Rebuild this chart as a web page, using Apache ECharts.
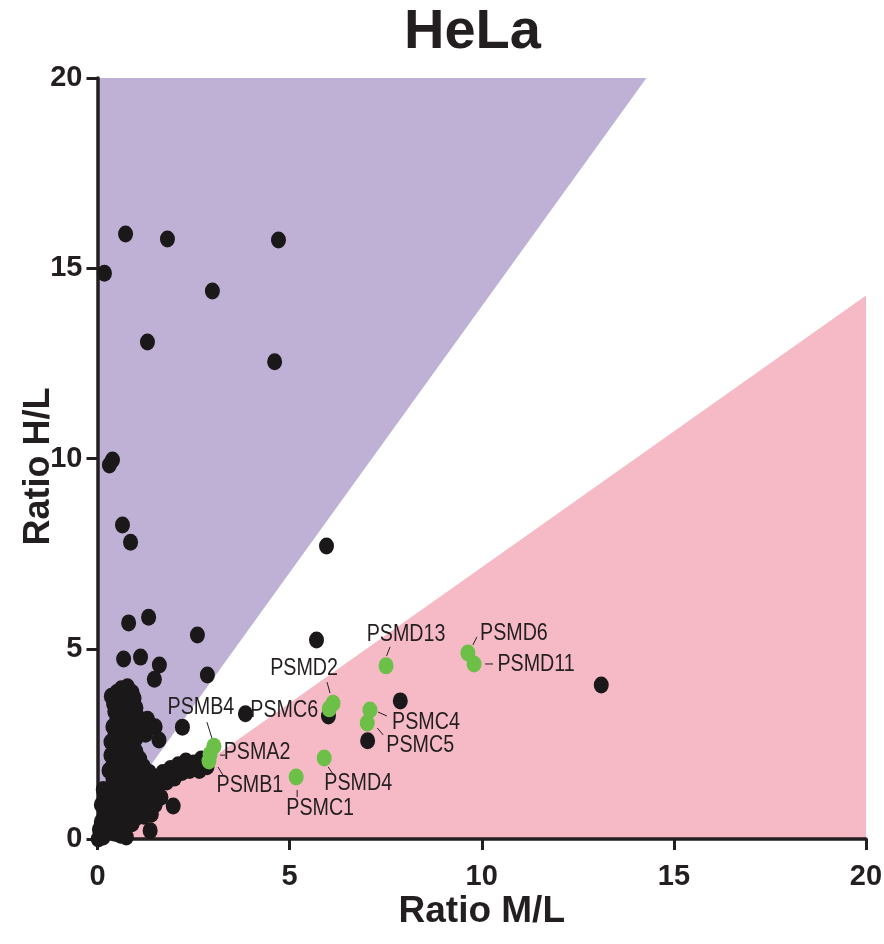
<!DOCTYPE html>
<html>
<head>
<meta charset="utf-8">
<script src="https://cdn.jsdelivr.net/npm/echarts@6/dist/echarts.min.js"></script>
<style>
  html, body { margin: 0; padding: 0; background: #ffffff; }
  #chart { width: 884px; height: 944px; }
</style>
</head>
<body>
<div id="chart"></div>
<script>
// Axis range and the 1.4-fold boundaries that split the plane into regions
const AXIS_MAX = 20;
const AXIS_STEP = 5;
const FOLD = 1.4;

// Proteins that do not carry a name label: [Ratio M/L, Ratio H/L]
const otherProteins = [
  // high H/L, low M/L
  [0.18, 14.87], [0.73, 15.9], [1.82, 15.77], [2.99, 14.4], [4.71, 15.74],
  [1.30, 13.06], [4.61, 12.54], [0.31, 9.83], [0.39, 9.96],
  [0.65, 8.25], [0.86, 7.8], [5.96, 7.7],
  [1.33, 5.83], [0.81, 5.68], [2.60, 5.36], [5.70, 5.23],
  [0.68, 4.73], [1.12, 4.78], [1.61, 4.57], [2.86, 4.31], [1.48, 4.2],
  [3.85, 3.29], [2.21, 2.94], [6.01, 3.23], [7.88, 3.63], [7.03, 2.58], [13.11, 4.05],
  // dense group near the origin
  [0.36, 3.75], [0.5, 3.85], [0.62, 3.95], [0.78, 4.0], [0.9, 3.85], [0.95, 3.7],
  [0.7, 3.7], [0.55, 3.6], [0.42, 3.55], [0.8, 3.55], [1.0, 3.45], [0.65, 3.45],
  [0.45, 3.35], [0.6, 3.3], [0.75, 3.3], [0.9, 3.25], [1.05, 3.2], [1.3, 3.15],
  [0.5, 3.1], [0.7, 3.05], [0.85, 3.0], [1.15, 2.95], [0.4, 2.95], [0.6, 2.85],
  [0.75, 2.75], [1.5, 2.95], [1.25, 2.75], [1.6, 2.6], [1.0, 2.65], [0.45, 2.7],
  [0.35, 2.55], [0.55, 2.5], [0.7, 2.45], [0.9, 2.45], [0.45, 2.35], [0.6, 2.3],
  [0.8, 2.25], [1.0, 2.3], [0.35, 2.2], [0.5, 2.1], [0.7, 2.1], [0.9, 2.05],
  [1.1, 2.1], [0.4, 1.95], [0.6, 1.9], [0.8, 1.9], [1.0, 1.85], [1.2, 1.9],
  [0.3, 1.8], [0.5, 1.75], [0.7, 1.7], [0.9, 1.65], [1.1, 1.7], [1.35, 1.75],
  [0.4, 1.6], [0.6, 1.55], [0.8, 1.5], [1.0, 1.45], [1.25, 1.5], [1.5, 1.6],
  [1.7, 1.75], [1.9, 1.85], [2.1, 1.95], [2.3, 2.05], [2.5, 2.0], [2.7, 2.1],
  [2.4, 1.8], [2.65, 1.8], [2.85, 1.9], [2.2, 1.75], [1.8, 1.5], [2.0, 1.6], [1.55, 1.3],
  [0.15, 1.3], [0.35, 1.35], [0.55, 1.3], [0.75, 1.3], [0.95, 1.25], [1.15, 1.3],
  [1.35, 1.25], [0.25, 1.1], [0.45, 1.1], [0.65, 1.05], [0.85, 1.1], [1.05, 1.05],
  [1.25, 1.1], [1.45, 1.05], [1.65, 1.1], [0.1, 0.9], [0.3, 0.85], [0.5, 0.9],
  [0.7, 0.85], [0.9, 0.85], [1.1, 0.8], [1.3, 0.85], [1.5, 0.9], [1.97, 0.87],
  [0.2, 0.65], [0.4, 0.65], [0.6, 0.6], [0.8, 0.6], [1.0, 0.55], [1.2, 0.6],
  [1.4, 0.65], [0.1, 0.45], [0.3, 0.4], [0.5, 0.4], [0.7, 0.35], [0.9, 0.4],
  [0.05, 0.25], [0.25, 0.2], [0.45, 0.15], [0.6, 0.1], [0.15, 0.05], [0.02, 0.0],
  [1.37, 0.22], [0.75, 0.05]
];

// Proteasome subunits, drawn in green with their names
const subunitNames = ['PSMD13', 'PSMD2', 'PSMC6', 'PSMC4', 'PSMC5', 'PSMB4',
                      'PSMA2', 'PSMB1', 'PSMD4', 'PSMC1', 'PSMD6', 'PSMD11'];
const subunitML = [7.51, 6.13, 6.03, 7.09, 7.02, 3.03, 2.93, 2.90, 5.90, 5.17, 9.64, 9.80];
const subunitHL = [4.55, 3.57, 3.42, 3.39, 3.05, 2.44, 2.23, 2.05, 2.13, 1.63, 4.89, 4.60];

// Axis tick labels
const tickLabels = ['0', '5', '10', '15', '20'];

// Where each name sits relative to its dot (pixels), and its short leader line
const labelPlacement = {
  PSMD13: { text: [20, -31], line: [0.5, -10, 4, -19] },
  PSMD2:  { text: [-29, -35], line: [-6, -21, -3, -10] },
  PSMC6:  { text: [-45, 2], line: null },
  PSMC4:  { text: [56, 12], line: [8, 2, 17, 6] },
  PSMC5:  { text: [53, 22], line: [10, 5, 16, 12] },
  PSMB4:  { text: [-13, -39], line: [-7, -24, -2, -8] },
  PSMA2:  { text: [47, -2], line: [10, 1, 15, 1] },
  PSMB1:  { text: [41, 24], line: [9, 6, 14, 14] },
  PSMD4:  { text: [34, 25], line: [4, 9, 8, 15] },
  PSMC1:  { text: [24, 31], line: [1, 13, 1, 20] },
  PSMD6:  { text: [46, -20], line: [5, -8, 9, -16] },
  PSMD11: { text: [62, 0], line: [11, 0, 19, 0] }
};

const INK = '#231f20';
const SANS = '"Liberation Sans", Arial, Helvetica, sans-serif';
// horizontal squeeze that gives the subunit names a condensed face
const NAME_SQUEEZE = 0.82;

// Regions: H/L more than FOLD times M/L, and M/L more than FOLD times H/L
const regions = [
  { color: '#bfb0d6', pts: [[0, 0], [0, AXIS_MAX], [AXIS_MAX / FOLD, AXIS_MAX]] },
  { color: '#f6bac6', pts: [[0, 0], [AXIS_MAX, 0], [AXIS_MAX, AXIS_MAX / FOLD]] }
];

const subunitData = subunitNames.map((n, i) => [subunitML[i], subunitHL[i], n]);

const axisCommon = {
  type: 'value',
  min: 0,
  max: AXIS_MAX,
  interval: AXIS_STEP,
  z: 2,
  splitLine: { show: false },
  axisLine: { show: true, onZero: false, lineStyle: { color: INK, width: 3.5 } },
  axisTick: { show: true, inside: false, length: 11, lineStyle: { color: INK, width: 3 } },
  nameLocation: 'middle',
  nameMoveOverlap: false
};

const chart = echarts.init(document.getElementById('chart'), null, { renderer: 'canvas' });
chart.setOption({
  animation: false,
  backgroundColor: '#ffffff',
  title: {
    text: 'HeLa',
    left: 404,
    top: 5,
    padding: 0,
    textStyle: { fontFamily: SANS, fontWeight: 'bold', fontSize: 56, color: INK }
  },
  grid: { left: 97.5, right: 18, top: 78, bottom: 105, outerBoundsMode: 'none', containLabel: false },
  xAxis: Object.assign({}, axisCommon, {
    name: 'Ratio M/L',
    nameGap: 54,
    nameTextStyle: { fontFamily: SANS, fontWeight: 'bold', fontSize: 37, color: INK },
    axisLabel: {
      margin: 23, fontFamily: SANS, fontWeight: 'bold', fontSize: 29, color: INK,
      formatter: v => tickLabels[Math.round(v / AXIS_STEP)]
    }
  }),
  yAxis: Object.assign({}, axisCommon, {
    name: 'Ratio H/L',
    nameGap: 40,
    nameTextStyle: { fontFamily: SANS, fontWeight: 'bold', fontSize: 36, color: INK, padding: [0, 16, 0, 0] },
    axisLabel: {
      margin: 15, fontFamily: SANS, fontWeight: 'bold', fontSize: 29, color: INK,
      formatter: v => tickLabels[Math.round(v / AXIS_STEP)]
    }
  }),
  series: [
    {
      type: 'custom',
      z: 1,
      silent: true,
      clip: false,
      data: regions.map((r, i) => [i]),
      renderItem: (params, api) => {
        const r = regions[params.dataIndex];
        return {
          type: 'polygon',
          shape: { points: r.pts.map(p => api.coord(p)) },
          style: { fill: r.color, stroke: null }
        };
      }
    },
    {
      type: 'scatter',
      z: 3,
      silent: true,
      clip: false,
      symbol: 'circle',
      symbolSize: [15, 17],
      itemStyle: { color: '#1a1818', borderWidth: 0, opacity: 1 },
      data: otherProteins
    },
    {
      type: 'scatter',
      z: 4,
      silent: true,
      clip: false,
      symbol: 'circle',
      symbolSize: [15, 17],
      itemStyle: { color: '#6cbf47', borderWidth: 0, opacity: 1 },
      data: subunitData
    },
    {
      type: 'custom',
      z: 5,
      silent: true,
      clip: false,
      data: subunitData,
      renderItem: (params, api) => {
        const name = subunitNames[params.dataIndex];
        const p = api.coord([api.value(0), api.value(1)]);
        const place = labelPlacement[name];
        const children = [{
          type: 'text',
          x: p[0] + place.text[0],
          y: p[1] + place.text[1],
          scaleX: NAME_SQUEEZE,
          style: {
            text: name,
            x: 0,
            y: 0,
            align: 'center',
            verticalAlign: 'middle',
            fill: INK,
            font: '24px ' + SANS
          }
        }];
        if (place.line) {
          const l = place.line;
          children.push({
            type: 'line',
            shape: { x1: p[0] + l[0], y1: p[1] + l[1], x2: p[0] + l[2], y2: p[1] + l[3] },
            style: { stroke: INK, lineWidth: 1 }
          });
        }
        return { type: 'group', children: children };
      }
    }
  ]
});
</script>
</body>
</html>
